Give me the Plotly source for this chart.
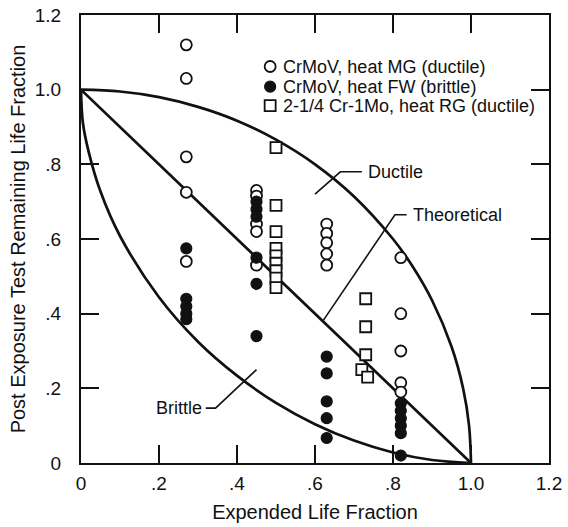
import plotly.graph_objects as go

# ---- data ----
mg_x = [0.27, 0.27, 0.27, 0.27, 0.27,
        0.45, 0.45, 0.45, 0.45, 0.45,
        0.63, 0.63, 0.63, 0.63, 0.63,
        0.82, 0.82, 0.82, 0.82, 0.82]
mg_y = [1.12, 1.03, 0.82, 0.725, 0.54,
        0.73, 0.715, 0.64, 0.62, 0.53,
        0.64, 0.615, 0.59, 0.56, 0.53,
        0.55, 0.40, 0.30, 0.215, 0.19]

fw_x = [0.27, 0.27, 0.27, 0.27, 0.27,
        0.45, 0.45, 0.45, 0.45, 0.45, 0.45,
        0.63, 0.63, 0.63, 0.63, 0.63,
        0.82, 0.82, 0.82, 0.82, 0.82, 0.82]
fw_y = [0.575, 0.44, 0.42, 0.40, 0.385,
        0.70, 0.68, 0.66, 0.55, 0.48, 0.34,
        0.285, 0.24, 0.165, 0.12, 0.067,
        0.16, 0.14, 0.12, 0.10, 0.08, 0.02]

rg_x = [0.50, 0.50, 0.50, 0.50, 0.50, 0.50, 0.50, 0.50, 0.50,
        0.73, 0.73, 0.73, 0.72, 0.735]
rg_y = [0.845, 0.69, 0.62, 0.575, 0.555, 0.535, 0.515, 0.495, 0.47,
        0.44, 0.365, 0.29, 0.25, 0.23]

series_names = ["CrMoV, heat MG (ductile)", "CrMoV, heat FW (brittle)",
                "2-1/4 Cr-1Mo, heat RG (ductile)"]

ductile_x = [0, 0.1, 0.2, 0.3, 0.4, 0.5, 0.6, 0.7, 0.8, 0.85, 0.9, 0.95, 0.98, 0.995, 1.0]
ductile_y = [1.0, 0.995, 0.98, 0.954, 0.917, 0.866, 0.80, 0.714, 0.60, 0.527, 0.436, 0.312, 0.199, 0.10, 0.0]

brittle_x = [0, 0.005, 0.02, 0.05, 0.1, 0.2, 0.3, 0.4, 0.5, 0.6, 0.7, 0.8, 0.9, 1.0]
brittle_y = [1.0, 0.91, 0.832, 0.727, 0.608, 0.444, 0.325, 0.234, 0.161, 0.104, 0.060, 0.028, 0.008, 0.0]

theo_x = [0, 1.0]
theo_y = [1.0, 0.0]

tick_vals = [0, 0.2, 0.4, 0.6, 0.8, 1.0, 1.2]
tick_text = ["0", ".2", ".4", ".6", ".8", "1.0", "1.2"]

# ---- layout constants (label / legend placement) ----
lead_theo_x = [0.62, 0.805, 0.835]
lead_theo_y = [0.38, 0.665, 0.665]
lead_brit_x = [0.32, 0.345, 0.45]
lead_brit_y = [0.147, 0.147, 0.25]
lead_duct_x = [0.60, 0.665, 0.72]
lead_duct_y = [0.72, 0.78, 0.78]

LEG_KEY_X = 0.485
LEG_TEXT_X = 0.513
LEG_ROWS_Y = [1.062, 1.008, 0.957]

FONT = "Liberation Sans, Arial, sans-serif"
INK = "#111111"

fig = go.Figure()

curve_line = dict(color=INK, width=2.7)
fig.add_trace(go.Scatter(x=ductile_x, y=ductile_y, mode="lines", line=dict(shape="spline", **curve_line),
                         showlegend=False, hoverinfo="skip"))
fig.add_trace(go.Scatter(x=brittle_x, y=brittle_y, mode="lines", line=dict(shape="spline", **curve_line),
                         showlegend=False, hoverinfo="skip"))
fig.add_trace(go.Scatter(x=theo_x, y=theo_y, mode="lines", line=curve_line,
                         showlegend=False, hoverinfo="skip"))

lead = dict(color=INK, width=1.6)
for lx, ly in [(lead_theo_x, lead_theo_y), (lead_brit_x, lead_brit_y), (lead_duct_x, lead_duct_y)]:
    fig.add_trace(go.Scatter(x=lx, y=ly, mode="lines", line=lead, showlegend=False, hoverinfo="skip"))

open_circle = dict(symbol="circle", size=11, color="white", line=dict(color=INK, width=1.8))
filled_circle = dict(symbol="circle", size=11, color=INK, line=dict(color=INK, width=1.2))
open_square = dict(symbol="square", size=11, color="white", line=dict(color=INK, width=1.8))
styles = [open_circle, filled_circle, open_square]

for xs, ys, name, mk in [(mg_x, mg_y, series_names[0], open_circle),
                         (fw_x, fw_y, series_names[1], filled_circle),
                         (rg_x, rg_y, series_names[2], open_square)]:
    fig.add_trace(go.Scatter(x=xs, y=ys, mode="markers", name=name, marker=mk, showlegend=False))

# hand-placed legend (keys + text)
for name, mk, ry in zip(series_names, styles, LEG_ROWS_Y):
    fig.add_trace(go.Scatter(x=[LEG_KEY_X], y=[ry], mode="markers", marker=mk,
                             showlegend=False, hoverinfo="skip"))
    fig.add_annotation(x=LEG_TEXT_X, y=ry, text=name, showarrow=False, xanchor="left",
                       yanchor="middle", font=dict(family=FONT, size=18, color=INK))

fig.add_annotation(x=0.845, y=0.665, text="Theoretical", showarrow=False, xanchor="left",
                   font=dict(family=FONT, size=18, color=INK))
fig.add_annotation(x=0.315, y=0.147, text="Brittle", showarrow=False, xanchor="right",
                   font=dict(family=FONT, size=18, color=INK))
fig.add_annotation(x=0.73, y=0.78, text="Ductile", showarrow=False, xanchor="left",
                   font=dict(family=FONT, size=18, color=INK))

axis_common = dict(range=[0, 1.2], showgrid=False, zeroline=False, showline=True,
                   linecolor=INK, linewidth=2, mirror="ticks", ticks="inside", ticklen=18,
                   tickwidth=1.6, tickcolor=INK, tickvals=tick_vals, ticktext=tick_text,
                   tickfont=dict(family=FONT, size=19, color=INK), automargin=False)
fig.update_xaxes(**axis_common, ticklabelstandoff=2,
                 title=dict(text="Expended Life Fraction", standoff=12,
                            font=dict(family=FONT, size=20, color=INK)))
fig.update_yaxes(**axis_common, ticklabelstandoff=14,
                 title=dict(text="Post Exposure Test Remaining Life Fraction", standoff=4,
                            font=dict(family=FONT, size=20, color=INK)))

fig.update_layout(
    width=568, height=527,
    margin=dict(l=81, r=19, t=15, b=64),
    paper_bgcolor="white", plot_bgcolor="white",
    showlegend=False,
)

fig.write_html("out.html")
